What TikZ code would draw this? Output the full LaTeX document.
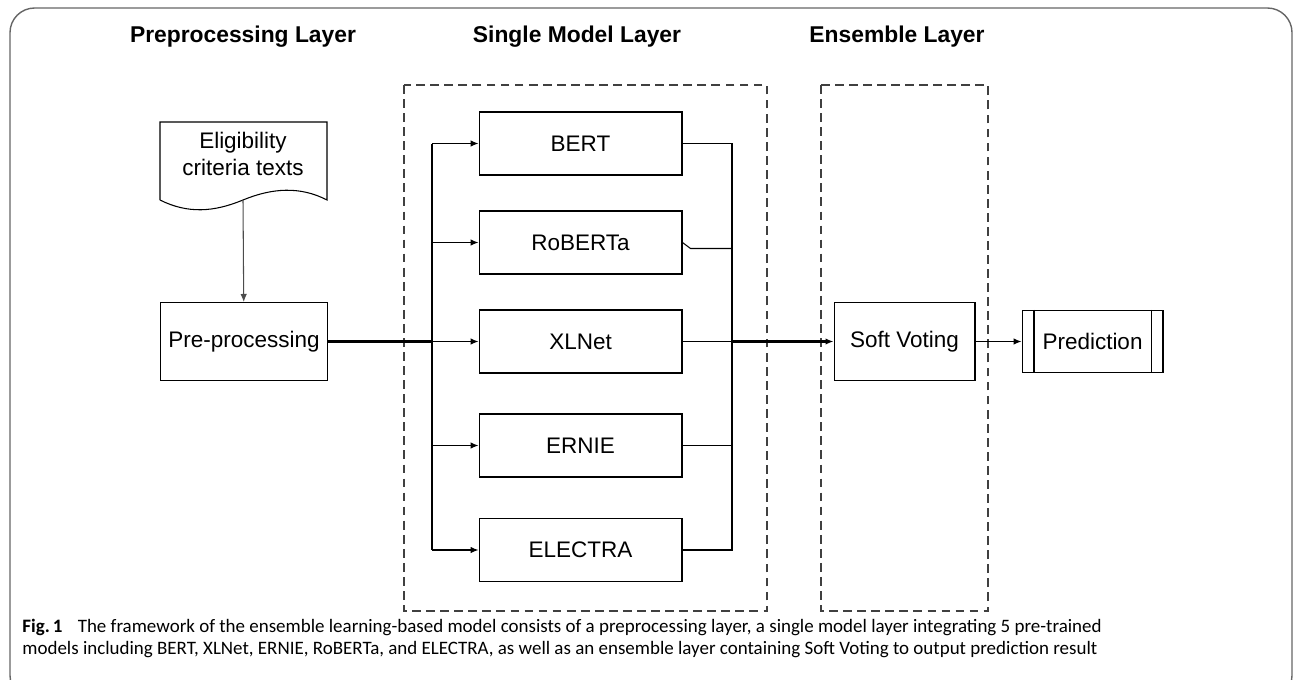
\documentclass[tikz,border=0pt]{standalone}
\usepackage{fontspec}
\setmainfont{Liberation Sans}
\newfontfamily\capfont{Carlito}
\usetikzlibrary{arrows.meta,positioning,calc}
\tikzset{every picture/.style={line width=0.6pt}}
\tikzset{
  layertitle/.style={font=\fontsize{13}{15}\selectfont\bfseries},
  modelbox/.style={draw, minimum width=4.06cm, minimum height=1.26cm, font=\fontsize{12.8}{15}\selectfont, inner sep=0pt},
  procbox/.style={draw, minimum width=3.34cm, minimum height=1.56cm, font=\fontsize{12.8}{15}\selectfont, inner sep=0pt},
  layerbox/.style={draw=black!75, dashed, dash pattern=on 5pt off 3pt},
  flow/.style={-{Latex[length=1.6mm,width=1.3mm]}},
}
\begin{document}
\begin{tikzpicture}[x=0.02cm, y=-0.02cm]
    \useasboundingbox (0,0) rectangle (1293,679);
    \clip (0,0) rectangle (1293,679);

    % outer frame
    \draw[black!60, line width=0.8pt, rounded corners=14] (10,8) rectangle (1292,700);

    % layer titles
    \node[layertitle] (t1) at (243,37) {Preprocessing Layer};
    \node[layertitle] (t2) at (577,37) {Single Model Layer};
    \node[layertitle] (t3) at (897,37) {Ensemble Layer};

    % dashed layer frames
    \draw[layerbox] (404,85) rectangle (767,611);
    \draw[layerbox] (821,85) rectangle (988,611);

    % input document
    \draw (160,200) -- (160,122) -- (327,122) -- (327,200)
          .. controls (300,186) and (272,188) .. (243,200)
          .. controls (214,212) and (188,214) .. (160,200);
    \node[font=\fontsize{12.8}{15}\selectfont, align=center] (doc) at (243,154) {Eligibility\\criteria texts};
    \coordinate (docb) at (243,200);

    % preprocessing
    \node[procbox] (pre) at (244,341.5) {Pre-processing};
    \draw[flow, black!70] (docb) -- (pre);

    % single models
    \node[modelbox] (bert)    at (580.5,143.5) {BERT};
    \node[modelbox] (roberta) at (580.5,242.5) {RoBERTa};
    \node[modelbox] (xlnet)   at (580.5,341.5) {XLNet};
    \node[modelbox] (ernie)   at (580.5,445.5) {ERNIE};
    \node[modelbox] (electra) at (580.5,550) {ELECTRA};

    % branch and merge points
    \coordinate (split) at (432,341.5);
    \coordinate (merge) at (732,341.5);
    \draw[line width=1.2pt] (pre) -- (split);
    \draw (split |- bert) -- (split |- electra);
    \foreach \m in {bert,roberta,xlnet,ernie,electra}
        \draw[flow] (split |- \m) -- (\m);

    \draw (bert.east) -- (merge |- bert) -- (merge |- electra) -- (electra.east);
    \draw (roberta.east) -- ++(8,6) -- (732,248.5);
    \draw (xlnet) -- (merge);
    \draw (ernie) -- (merge |- ernie);

    % ensemble
    \node[procbox, minimum width=2.82cm] (vote) at (904.5,341.5) {Soft Voting};
    \draw[line width=1.2pt, flow] (merge) -- (vote);

    \node[procbox, minimum width=2.82cm, minimum height=1.24cm] (pred) at (1092.5,341.5) {Prediction};
    \draw ([xshift=0.25cm]pred.north west) -- ([xshift=0.25cm]pred.south west);
    \draw ([xshift=-0.25cm]pred.north east) -- ([xshift=-0.25cm]pred.south east);
    \draw[flow] (vote) -- (pred);

    % caption
    \node[anchor=west, font=\capfont\fontsize{10.8}{12}\selectfont] (cap1) at (16,627)
      {\textbf{Fig.\,1}\hspace{0.8em}The framework of the ensemble learning-based model consists of a preprocessing layer, a single model layer integrating 5 pre-trained};
    \node[anchor=west, font=\capfont\fontsize{10.8}{12}\selectfont] (cap2) at (16,650)
      {models including BERT, XLNet, ERNIE, RoBERTa, and ELECTRA, as well as an ensemble layer containing Soft Voting to output prediction result};
\end{tikzpicture}
\end{document}
